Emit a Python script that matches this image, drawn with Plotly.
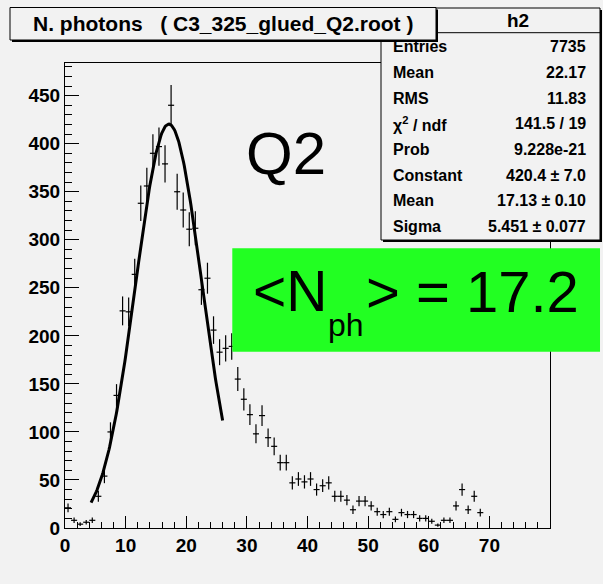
import numpy as np
import plotly.graph_objects as go

# ---------------- data ----------------
bin_centers = [0.5, 1.5, 2.5, 3.5, 4.5, 5.5, 6.5, 7.5, 8.5, 9.5,
               10.5, 11.5, 12.5, 13.5, 14.5, 15.5, 16.5, 17.5, 18.5, 19.5,
               20.5, 21.5, 22.5, 23.5, 24.5, 25.5, 26.5, 27.5, 28.5, 29.5,
               30.5, 31.5, 32.5, 33.5, 34.5, 35.5, 36.5, 37.5, 38.5, 39.5,
               40.5, 41.5, 42.5, 43.5, 44.5, 45.5, 46.5, 47.5, 48.5, 49.5,
               50.5, 51.5, 52.5, 53.5, 54.5, 55.5, 56.5, 57.5, 58.5, 59.5,
               60.5, 61.5, 62.5, 63.5, 64.5, 65.5, 66.5, 67.5, 68.5]
counts = [21, 8, 4, 6, 8, 33, 54, 100, 138, 226,
          225, 264, 338, 356, 390, 397, 379, 440, 350, 331,
          311, 312, 248, 260, 206, 183, 187, 189, 155, 134,
          118, 98, 117, 94, 85, 68, 68, 47, 51, 48,
          51, 40, 44, 47, 33, 33, 29, 19, 28, 28,
          23, 17, 14, 17, 9, 16, 14, 14, 10, 10,
          7, 3, 8, 8, 23, 40, 19, 33, 16]
bin_half_width = 0.5

fit_constant = 420.4
fit_mean = 17.13
fit_sigma = 5.451
fit_range = [4.3, 26.0]

x_tick_vals = [0, 10, 20, 30, 40, 50, 60, 70]
x_tick_text = ["0", "10", "20", "30", "40", "50", "60", "70"]
y_tick_vals = [0, 50, 100, 150, 200, 250, 300, 350, 400, 450]
y_tick_text = ["0", "50", "100", "150", "200", "250", "300", "350", "400", "450"]
x_range = [0, 80]
y_range = [0, 484]

title_text = "N. photons&nbsp;&nbsp;&nbsp;( C3_325_glued_Q2.root )"
stats_name = "h2"
stats_labels = ["Entries", "Mean", "RMS", "χ<sup>2</sup> / ndf", "Prob",
                "Constant", "Mean", "Sigma"]
stats_values = ["7735", "22.17", "11.83", "141.5 / 19", "9.228e-21",
                "420.4 ± 7.0", "17.13 ± 0.10", "5.451 ± 0.077"]
label_q = "Q2"

# ---------------- geometry helpers (pixels -> paper) ----------------
W, H = 603, 584
L, R, T, B = 65, 53, 63, 56
PW, PH = W - L - R, H - T - B


def px(xp):
    return (xp - L) / PW


def py(yp):
    return (H - B - yp) / PH


BG = "#f2f2f2"
FONT = "Liberation Sans, Arial, Helvetica, sans-serif"

fig = go.Figure()

# histogram with error bars
err_y = [float(np.sqrt(c)) for c in counts]
fig.add_trace(go.Scatter(
    x=bin_centers, y=counts, mode="markers",
    marker=dict(size=1, color="black"),
    error_y=dict(type="data", array=err_y, width=0, thickness=1.2, color="black"),
    error_x=dict(type="constant", value=bin_half_width, width=0, thickness=1.2, color="black"),
    showlegend=False, hoverinfo="skip",
))

# gaussian fit curve
xf = np.linspace(fit_range[0], fit_range[1], 200)
yf = fit_constant * np.exp(-0.5 * ((xf - fit_mean) / fit_sigma) ** 2)
fig.add_trace(go.Scatter(x=xf, y=yf, mode="lines",
                         line=dict(color="black", width=3),
                         showlegend=False, hoverinfo="skip"))

shapes = []
# stats box (shadow + box + header line)
shapes.append(dict(type="rect", xref="paper", yref="paper",
                   x0=px(383), x1=px(602), y0=py(242), y1=py(10),
                   fillcolor="black", line=dict(width=0), layer="above"))
shapes.append(dict(type="rect", xref="paper", yref="paper",
                   x0=px(381), x1=px(600), y0=py(240), y1=py(8),
                   fillcolor=BG, line=dict(color="black", width=1), layer="above"))
shapes.append(dict(type="line", xref="paper", yref="paper",
                   x0=px(381), x1=px(600), y0=py(32.7), y1=py(32.7),
                   line=dict(color="black", width=1), layer="above"))
# title box (shadow + box)
shapes.append(dict(type="rect", xref="paper", yref="paper",
                   x0=px(12), x1=px(438), y0=py(42), y1=py(9.5),
                   fillcolor="black", line=dict(width=0), layer="above"))
shapes.append(dict(type="rect", xref="paper", yref="paper",
                   x0=px(10), x1=px(436), y0=py(40), y1=py(7.5),
                   fillcolor=BG, line=dict(color="black", width=1), layer="above"))
# green box
shapes.append(dict(type="rect", xref="paper", yref="paper",
                   x0=px(232.3), x1=px(600), y0=py(351.7), y1=py(248.3),
                   fillcolor="#22ff22", line=dict(width=0), layer="above"))

ann = []
ann.append(dict(text=title_text, x=px(223), y=py(24), xref="paper", yref="paper",
                xanchor="center", yanchor="middle", showarrow=False,
                font=dict(family=FONT, size=21, color="black", weight="bold")))
ann.append(dict(text=stats_name, x=px(518), y=py(21), xref="paper", yref="paper",
                xanchor="center", yanchor="middle", showarrow=False,
                font=dict(family=FONT, size=19, color="black", weight="bold")))
for i, (lab, val) in enumerate(zip(stats_labels, stats_values)):
    yy = 46.7 + i * 25.7
    ann.append(dict(text=lab, x=px(391), y=py(yy), xref="paper", yref="paper",
                    xanchor="left", yanchor="middle", showarrow=False,
                    font=dict(family=FONT, size=16, color="black", weight="bold")))
    ann.append(dict(text=val, x=px(588), y=py(yy), xref="paper", yref="paper",
                    xanchor="right", yanchor="middle", showarrow=False,
                    font=dict(family=FONT, size=16, color="black", weight="bold")))
ann.append(dict(text=label_q, x=px(286), y=py(153), xref="paper", yref="paper",
                xanchor="center", yanchor="middle", showarrow=False,
                font=dict(family=FONT, size=60, color="black")))
ann.append(dict(text="&lt;N", x=px(251), y=py(291), xref="paper", yref="paper",
                xanchor="left", yanchor="middle", showarrow=False,
                font=dict(family=FONT, size=57, color="black")))
ann.append(dict(text="ph", x=px(326), y=py(325), xref="paper", yref="paper",
                xanchor="left", yanchor="middle", showarrow=False,
                font=dict(family=FONT, size=32, color="black")))
ann.append(dict(text="&gt; = 17.2", x=px(364), y=py(291), xref="paper", yref="paper",
                xanchor="left", yanchor="middle", showarrow=False,
                font=dict(family=FONT, size=58, color="black")))

axis_common = dict(showgrid=False, zeroline=False, showline=True, linecolor="black",
                   linewidth=1, mirror=True, ticks="inside", tickcolor="black",
                   tickwidth=1,
                   tickfont=dict(family=FONT, size=19, color="black", weight="bold"))

fig.update_layout(
    width=W, height=H,
    margin=dict(l=L, r=R, t=T, b=B, pad=0),
    paper_bgcolor=BG, plot_bgcolor=BG,
    xaxis=dict(range=x_range, tickmode="array", tickvals=x_tick_vals,
               ticktext=x_tick_text, ticklen=12,
               minor=dict(tickmode="linear", tick0=0, dtick=2, ticks="inside",
                          ticklen=6, tickcolor="black", tickwidth=1),
               **axis_common),
    yaxis=dict(range=y_range, tickmode="array", tickvals=y_tick_vals,
               ticktext=y_tick_text, ticklen=14,
               minor=dict(tickmode="linear", tick0=0, dtick=10, ticks="inside",
                          ticklen=7, tickcolor="black", tickwidth=1),
               **axis_common),
    shapes=shapes, annotations=ann,
)

fig.write_html("out.html")
